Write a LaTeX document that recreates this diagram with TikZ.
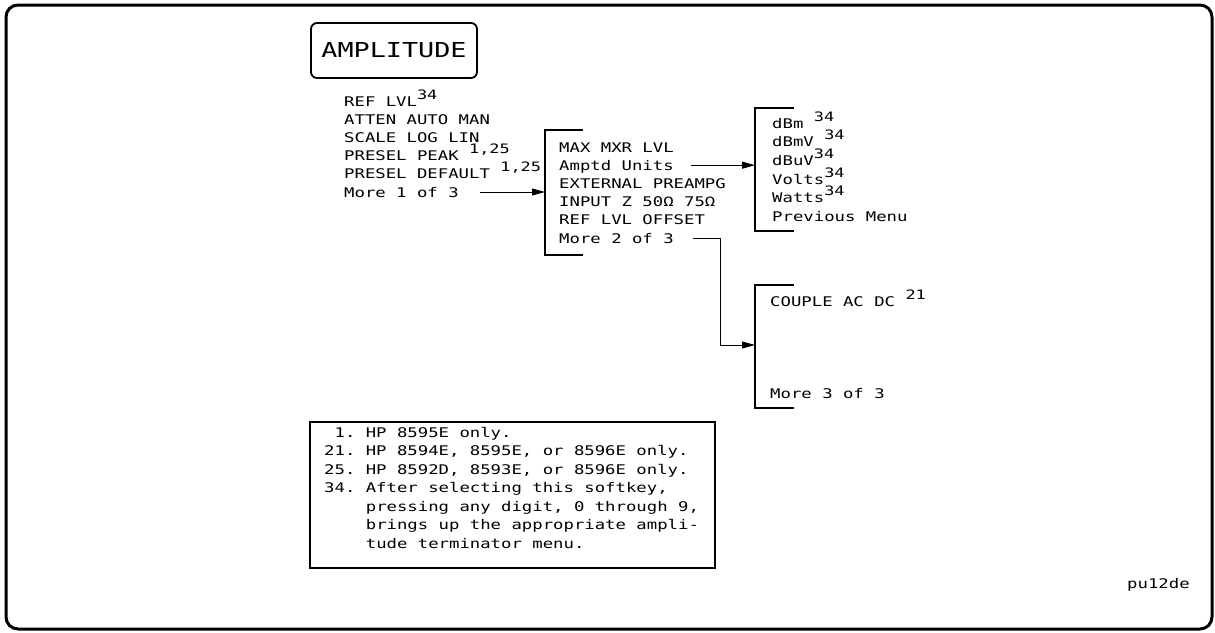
\documentclass[tikz,border=0pt]{standalone}
\usepackage{fontspec}
\usetikzlibrary{arrows.meta,positioning,calc}
\newfontfamily\plotfont[FakeStretch=1.3]{DejaVu Sans Mono}
\newcommand{\fnref}[1]{\raisebox{7pt}{\fontsize{13}{13}\selectfont#1}}

\begin{document}
\begin{tikzpicture}[x=1pt, y=-1pt,
  softkey/.style={font=\plotfont\fontsize{13.3}{18.5}\selectfont, anchor=base west, inner sep=0pt},
  hardkey/.style={draw, line width=1.8pt, rounded corners=6pt, font=\plotfont\fontsize{20.6}{24}\selectfont, minimum width=166pt, minimum height=55pt, inner sep=0pt},
  bracket/.style={line width=2.4pt},
  link/.style={line width=0.9pt, -{Triangle[length=13pt, width=7pt]}},
  notebox/.style={draw, line width=1.8pt, minimum width=405pt, minimum height=146pt, anchor=north west, inner sep=0pt}]
  \useasboundingbox (0,0) rectangle (1215,632);
  \draw[line width=3pt, rounded corners=12pt] (6,5) rectangle (1212,629);

  \node[hardkey] (amp) at (394,50.5) {AMPLITUDE};

  % menu 1 of 3
  \foreach \txt [count=\i] in {REF LVL\fnref{34}, ATTEN AUTO MAN, SCALE LOG LIN, {PRESEL PEAK \fnref{1,25}}, {PRESEL DEFAULT \fnref{1,25}}, More 1 of 3}
    \node[softkey] (one-\i) at (344,{106+18.2*(\i-1)}) {\txt};

  % menu 2 of 3
  \coordinate (br2-top) at (545,130);
  \coordinate (br2-bot) at (545,255);
  \draw[bracket] ($(br2-top)+(38,0)$) -- (br2-top) -- (br2-bot) -- ++(38,0);
  \foreach \txt [count=\i] in {MAX MXR LVL, Amptd Units, EXTERNAL PREAMPG, INPUT Z 50Ω 75Ω, REF LVL OFFSET, More 2 of 3}
    \node[softkey] (two-\i) at (559,{152+18.2*(\i-1)}) {\txt};

  % units menu
  \coordinate (br3-top) at (755,108);
  \coordinate (br3-bot) at (755,231);
  \draw[bracket] ($(br3-top)+(39,0)$) -- (br3-top) -- (br3-bot) -- ++(39,0);
  \foreach \txt [count=\i] in {dBm \fnref{34}, dBmV \fnref{34}, dBuV\fnref{34}, Volts\fnref{34}, Watts\fnref{34}, Previous Menu}
    \node[softkey] (unit-\i) at (772,{128+18.7*(\i-1)}) {\txt};

  % menu 3 of 3
  \coordinate (br4-top) at (755,285);
  \coordinate (br4-bot) at (755,408);
  \coordinate (br4-in) at (755,345);
  \draw[bracket] ($(br4-top)+(39,0)$) -- (br4-top) -- (br4-bot) -- ++(39,0);
  \node[softkey] (three-1) at (770,306) {COUPLE AC DC \fnref{21}};
  \node[softkey] (three-2) at (770,398) {More 3 of 3};

  % connectors
  \coordinate (one-more) at ([yshift=5pt]one-6.base east);
  \draw[link] ([xshift=21pt]one-more) -- (one-more -| br2-top);
  \coordinate (two-units) at ([yshift=5pt]two-2.base east);
  \draw[link] ([xshift=17pt]two-units) -- (two-units -| br3-top);
  \coordinate (two-more) at ([yshift=5pt]two-6.base east);
  \draw[link] ([xshift=19pt]two-more) -- ++(28,0) |- (br4-in);

  % footnotes
  \node[notebox] (notes) at (309,421) {};
  \node[softkey, anchor=north west] (notetext) at ([xshift=15pt,yshift=-3pt]notes.north west)
    {\begin{tabular}{@{}r@{\ }l@{}}
      1. & HP 8595E only.\\
      21. & HP 8594E, 8595E, or 8596E only.\\
      25. & HP 8592D, 8593E, or 8596E only.\\
      34. & After selecting this softkey,\\
          & pressing any digit, 0 through 9,\\
          & brings up the appropriate ampli-\\
          & tude terminator menu.
     \end{tabular}};

  \node[softkey] (plotid) at (1127,588) {pu12de};
\end{tikzpicture}
\end{document}
